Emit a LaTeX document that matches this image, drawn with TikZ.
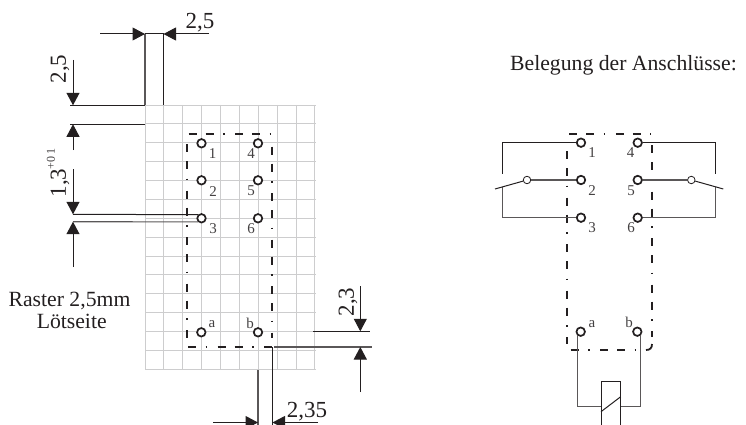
\documentclass[tikz,border=0pt]{standalone}
\usepackage{fontspec}
\setmainfont{Liberation Serif}
\usetikzlibrary{arrows.meta}
\definecolor{ink}{HTML}{231F20}
\definecolor{gridc}{HTML}{CDCDCE}
\tikzset{
 x=1pt,y=-1pt,
 line/.style={draw=ink,line width=1pt},
 thin line/.style={draw=ink!75,line width=1.1pt},
 gridline/.style={draw=gridc,line width=1.2pt},
 dim/.style={draw=ink,line width=1pt,-{Triangle[length=12.5pt,width=13pt,fill=ink]}},
 boxline/.style={draw=ink,line width=1.8pt,dash pattern=on 8pt off 9pt on 8pt off 9.5pt on 1.5pt off 10.5pt},
 pin/.style={circle,draw=ink,line width=1.7pt,fill=white,inner sep=0pt,minimum size=8.5pt},
 hub/.style={circle,draw=ink,line width=0.8pt,fill=white,inner sep=0pt,minimum size=7.5pt},
 pinlabel/.style={font=\fontsize{15}{15}\selectfont,text=ink!85,inner sep=0pt},
 label/.style={font=\fontsize{21.7}{21.7}\selectfont,text=ink,inner sep=0pt},
 dimlabel/.style={font=\fontsize{23}{23}\selectfont,text=ink,inner sep=0pt},
}
\begin{document}
\begin{tikzpicture}
\useasboundingbox (0,0) rectangle (746,425);
% grid, lines centred on the pixel rows so that they all look alike
\foreach \i in {0,...,9} {
  \pgfmathsetmacro{\gx}{floor(145+\i*18.88)+0.5}
  \draw[gridline] (\gx,105) -- (\gx,369.5);
}
\foreach \j in {0,...,14} {
  \pgfmathsetmacro{\gy}{floor(105+\j*18.88)+0.5}
  \draw[gridline] (145,\gy) -- (315.5,\gy);
}
% left terminal box
\draw[boxline] (188.7,134.3) -- (272.5,134.3);
\draw[boxline] (187.3,144) -- (187.3,338);
\draw[boxline] (272.3,146.7) -- (272.3,338);
\draw[boxline,dash phase=17pt] (188,347) -- (272.5,347);
% dimension coordinates
\coordinate (tl) at (145,34); \coordinate (tr) at (163.5,34);
\coordinate (tla) at (100,34); \coordinate (tra) at (209,34);
\coordinate (g1) at (145,105.3); \coordinate (g2) at (163.5,105.3);
\coordinate (h1) at (70,105.3); \coordinate (h1e) at (145,105.3);
\coordinate (h2) at (70,124.3); \coordinate (h2e) at (145,124.3);
\coordinate (a1s) at (73,60); \coordinate (a1e) at (73,105.3);
\coordinate (a2s) at (73,150); \coordinate (a2e) at (73,124.3);
\coordinate (a3s) at (73,169); \coordinate (a3e) at (73,214.3);
\coordinate (a4s) at (73,267); \coordinate (a4e) at (73,221.7);
\coordinate (h3) at (73,214.3); \coordinate (h4) at (73,221.7);
\coordinate (r1) at (313,331.3); \coordinate (r1e) at (370,331.3);
\coordinate (r2) at (274,347); \coordinate (r2e) at (372,347);
\coordinate (a5s) at (360.3,286); \coordinate (a5e) at (360.3,331.3);
\coordinate (a6s) at (360.3,392); \coordinate (a6e) at (360.3,347);
\coordinate (v1) at (258,369.5); \coordinate (v1e) at (258,425);
\coordinate (v2) at (272.5,347); \coordinate (v2e) at (272.5,425);
\coordinate (b1s) at (213,422.5); \coordinate (b1e) at (258,422.5);
\coordinate (b2s) at (318,422.5); \coordinate (b2e) at (272.5,422.5);
% dimension lines
\draw[line] (tl) -- (tr);
\draw[thin line] (tl) -- (g1);
\draw[line] (tr) -- (g2);
\draw[dim] (tla) -- (tl);
\draw[dim] (tra) -- (tr);
\draw[line] (h1) -- (h1e);
\draw[line] (h2) -- (h2e);
\draw[dim] (a1s) -- (a1e);
\draw[dim] (a2s) -- (a2e);
\draw[dim] (a3s) -- (a3e);
\draw[dim] (a4s) -- (a4e);
\draw[thin line] (r2) -- (r2e);
\draw[line] (r1) -- (r1e);
\draw[dim] (a5s) -- (a5e);
\draw[dim] (a6s) -- (a6e);
\draw[thin line] (v1) -- (v1e);
\draw[line] (v2) -- (v2e);
\draw[dim] (b1s) -- (b1e);
\draw[dim] (b2s) -- (b2e);
% left pins
\node[pin] (p1) at (201.5,143.3) {};
\node[pin] (p2) at (201.5,180.3) {};
\node[pin] (p3) at (201.5,218.3) {};
\node[pin] (p4) at (258,143.3) {};
\node[pin] (p5) at (258,180.3) {};
\node[pin] (p6) at (258,218.3) {};
\node[pin] (pa) at (201.3,332.3) {};
\node[pin] (pb) at (258,332.3) {};
\node[pinlabel] at (212.7,154) {1};
\node[pinlabel] at (213,192) {2};
\node[pinlabel] at (213,228.5) {3};
\node[pinlabel] at (251,154) {4};
\node[pinlabel] at (251,191) {5};
\node[pinlabel] at (251,228.5) {6};
\node[pinlabel] at (212,324) {a};
\node[pinlabel] at (250,323) {b};
\draw[line] (h3) -- (p3.north west);
\draw[thin line] (h4) -- (p3.south west);
% dimension labels
\node[dimlabel] at (200,23) {2,5};
\node[dimlabel,rotate=90] at (60,69) {2,5};
\node[dimlabel,rotate=90] at (60,183) {1,3};
\node[pinlabel,rotate=90,font=\fontsize{12}{12}\selectfont] at (51,159) {+0\,1};
\node[dimlabel,rotate=90] at (348,302) {2,3};
\node[dimlabel] at (307,412) {2,35};
\node[label] at (69.5,300.7) {Raster 2,5mm};
\node[label] at (71.7,321.7) {Lötseite};
\node[label,anchor=west] at (510,65) {Belegung der Anschlüsse:};
% right diagram terminal box
\draw[boxline] (569.3,134) -- (651,134);
\draw[boxline] (566.7,151) -- (566.7,344);
\draw[boxline] (651.7,145) -- (651.7,337);
\draw[boxline,dash phase=17pt] (570.7,350) -- (646,350);
\draw[draw=ink,line width=1.8pt] (646,350) .. controls (650,350) and (652,348) .. (652,344);
% wires
\node[hub] (hl) at (527,180) {};
\node[hub] (hr) at (691.3,180) {};
\coordinate (lx) at (502.3,174); \coordinate (ltop) at (502.3,142.7);
\coordinate (lmid) at (502.3,187); \coordinate (lbot) at (502.3,217.7);
\coordinate (rx) at (715.7,174); \coordinate (rtop) at (715.7,142.7);
\coordinate (rmid) at (715.7,187); \coordinate (rbot) at (715.7,217.7);
\coordinate (lblade) at (495,189); \coordinate (rblade) at (723.3,189);
% right pins
\node[pin] (q1) at (581,142.7) {};
\node[pin] (q2) at (581,180) {};
\node[pin] (q3) at (581,217.7) {};
\node[pin] (q4) at (637.7,142.7) {};
\node[pin] (q5) at (637.7,180) {};
\node[pin] (q6) at (637.7,217.7) {};
\node[pin] (qa) at (580.7,331.7) {};
\node[pin] (qb) at (637.3,331.7) {};
\node[pinlabel] at (592,152.7) {1};
\node[pinlabel] at (592,191) {2};
\node[pinlabel] at (592,228) {3};
\node[pinlabel] at (630.7,153) {4};
\node[pinlabel] at (631,191) {5};
\node[pinlabel] at (631,228) {6};
\node[pinlabel] at (592,324) {a};
\node[pinlabel] at (629,322) {b};
\draw[line] (q1) -- (ltop) -- (lx);
\draw[thin line] (q3) -- (lbot) -- (lmid);
\draw[thin line] (hl) -- (q2);
\draw[line] (hl) -- (lblade);
\draw[line] (q4) -- (rtop) -- (rx);
\draw[thin line] (q6) -- (rbot) -- (rmid);
\draw[thin line] (hr) -- (q5);
\draw[line] (hr) -- (rblade);
% coil
\coordinate (cl) at (601,406.7); \coordinate (cr) at (620.7,406.7);
\coordinate (ctl) at (601,381); \coordinate (ctr) at (620.7,381);
\coordinate (cbl) at (601,425); \coordinate (cbr) at (620.7,425);
\coordinate (d1) at (601,411.7); \coordinate (d2) at (620.7,396.7);
\draw[line] (cbl) -- (ctl) -- (ctr) -- (cbr);
\draw[line] (d1) -- (d2);
\draw[thin line] (qa.south west) |- (cl);
\draw[thin line] (qb.south east) |- (cr);
\end{tikzpicture}
\end{document}
